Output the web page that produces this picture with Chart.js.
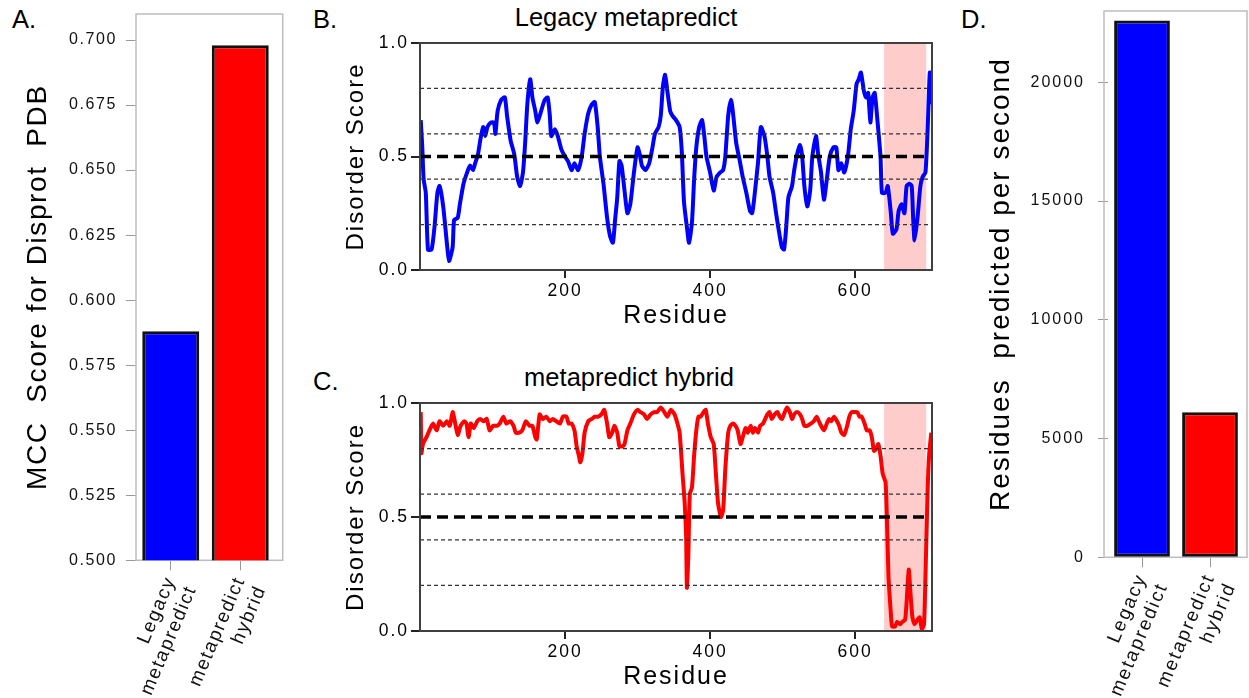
<!DOCTYPE html>
<html>
<head>
<meta charset="utf-8">
<script src="https://cdn.jsdelivr.net/npm/chart.js@4.4.0/dist/chart.umd.min.js"></script>
<style>
body{margin:0;background:#fff;width:1249px;height:698px;position:relative;overflow:hidden;font-family:'Liberation Sans',Arial,sans-serif;}
canvas{position:absolute;}
.lbl{position:absolute;font-size:25.5px;line-height:25.5px;color:#000;white-space:nowrap;}
</style>
</head>
<body>
<div class="lbl" style="left:12px;top:7px">A.</div>
<div class="lbl" style="left:313px;top:7px">B.</div>
<div class="lbl" style="left:313px;top:369px">C.</div>
<div class="lbl" style="left:961px;top:7px">D.</div>
<div class="lbl" style="left:626px;top:5px;transform:translateX(-50%)">Legacy metapredict</div>
<div class="lbl" style="left:629px;top:365px;transform:translateX(-50%)">metapredict hybrid</div>

<canvas id="g_mcc" width="300" height="698" style="left:0;top:0"></canvas>
<canvas id="g_legacy" width="620" height="345" style="left:320px;top:0"></canvas>
<canvas id="g_hybrid" width="620" height="338" style="left:320px;top:360px"></canvas>
<canvas id="g_velocidad" width="299" height="698" style="left:950px;top:0"></canvas>

<script>
// valores
let metodos = [['Legacy', 'metapredict'], ['metapredict', 'hybrid']];
let mcc = [0.588, 0.698];
let residuos_por_seg = [22600, 6110];
let ticks_mcc = [0.500, 0.525, 0.550, 0.575, 0.600, 0.625, 0.650, 0.675, 0.700];
let ticks_velocidad = [0, 5000, 10000, 15000, 20000];

let legacy_res = [1,3,5,8,11,16,20,24,27,32,37,40,45,47,52,55,60,65,69,73,76,80,83,87,90,93,98,102,104,107,112,117,120,125,130,134,138,142,145,148,152,155,159,162,167,172,176,179,181,186,190,195,200,204,209,213,218,223,227,232,237,241,245,248,253,258,262,266,269,272,275,278,282,286,290,295,300,303,306,311,316,320,324,329,332,335,338,341,345,348,353,358,361,364,368,371,375,378,381,385,389,392,395,400,405,409,414,418,421,425,429,432,436,441,445,450,455,458,461,466,470,475,479,482,487,491,496,499,502,505,508,513,516,520,524,527,530,534,538,541,546,549,553,557,561,565,570,574,577,581,585,590,594,598,602,605,608,612,615,618,621,624,627,631,635,637,642,645,649,652,657,660,664,668,671,675,678,680,682,686,690,693,697,700,703,706];
let legacy_score = [0.66,0.55,0.40,0.34,0.09,0.09,0.19,0.34,0.37,0.28,0.12,0.04,0.10,0.22,0.23,0.29,0.38,0.43,0.46,0.44,0.47,0.51,0.57,0.63,0.59,0.63,0.65,0.65,0.60,0.70,0.75,0.76,0.68,0.57,0.51,0.41,0.37,0.43,0.56,0.73,0.84,0.76,0.70,0.65,0.70,0.75,0.76,0.68,0.59,0.62,0.59,0.53,0.50,0.48,0.44,0.47,0.44,0.50,0.60,0.69,0.73,0.74,0.63,0.50,0.38,0.23,0.15,0.12,0.22,0.32,0.48,0.46,0.35,0.25,0.29,0.43,0.54,0.51,0.46,0.44,0.47,0.53,0.60,0.63,0.68,0.81,0.86,0.79,0.70,0.68,0.66,0.63,0.52,0.30,0.19,0.12,0.21,0.40,0.54,0.63,0.66,0.59,0.50,0.43,0.35,0.41,0.43,0.44,0.50,0.68,0.75,0.68,0.56,0.48,0.41,0.34,0.26,0.25,0.32,0.47,0.63,0.59,0.50,0.41,0.34,0.25,0.15,0.10,0.09,0.19,0.32,0.37,0.44,0.51,0.55,0.50,0.37,0.28,0.35,0.50,0.59,0.51,0.43,0.31,0.40,0.50,0.54,0.54,0.44,0.47,0.43,0.50,0.62,0.70,0.82,0.84,0.87,0.79,0.76,0.78,0.65,0.76,0.78,0.65,0.50,0.34,0.34,0.37,0.26,0.16,0.18,0.26,0.29,0.25,0.37,0.38,0.37,0.23,0.13,0.23,0.37,0.41,0.43,0.62,0.87,0.73];

let hybrid_res = [1,2,4,9,13,18,23,27,32,37,41,45,48,52,56,61,64,67,70,74,79,83,88,92,96,101,106,110,115,119,124,129,132,137,141,146,151,155,159,161,165,169,174,179,183,188,193,197,202,205,209,213,216,219,221,224,227,232,237,241,246,250,254,258,261,265,268,272,275,279,282,286,290,295,300,304,309,313,318,323,327,332,337,341,346,351,355,358,362,365,367,368,370,372,375,378,381,384,387,391,394,397,401,405,408,411,415,418,421,425,428,432,435,438,442,445,449,452,456,459,462,466,469,473,476,479,482,485,489,493,496,499,503,506,510,513,516,520,524,527,530,534,539,543,547,550,553,557,561,564,567,571,575,578,581,585,589,592,595,599,603,606,609,613,616,620,623,626,629,632,635,638,642,644,646,649,651,655,658,662,665,669,672,674,676,679,682,686,689,692,695,697,700,702,705];
let hybrid_score = [0.96,0.78,0.82,0.85,0.88,0.91,0.88,0.92,0.90,0.92,0.90,0.96,0.92,0.86,0.90,0.92,0.91,0.85,0.91,0.89,0.92,0.93,0.92,0.93,0.88,0.90,0.90,0.91,0.94,0.91,0.92,0.90,0.87,0.87,0.88,0.92,0.90,0.90,0.85,0.84,0.95,0.93,0.94,0.92,0.93,0.92,0.91,0.94,0.94,0.91,0.91,0.88,0.81,0.77,0.74,0.78,0.87,0.92,0.93,0.94,0.94,0.95,0.97,0.91,0.85,0.87,0.90,0.87,0.81,0.81,0.82,0.88,0.91,0.95,0.97,0.96,0.95,0.93,0.95,0.96,0.96,0.98,0.96,0.94,0.97,0.95,0.91,0.87,0.69,0.56,0.41,0.19,0.33,0.60,0.63,0.77,0.88,0.94,0.94,0.96,0.97,0.91,0.85,0.82,0.69,0.56,0.50,0.53,0.71,0.87,0.90,0.91,0.90,0.88,0.82,0.85,0.89,0.87,0.90,0.87,0.89,0.87,0.90,0.91,0.93,0.95,0.96,0.93,0.95,0.96,0.94,0.93,0.96,0.98,0.96,0.93,0.95,0.96,0.95,0.93,0.90,0.90,0.91,0.92,0.94,0.92,0.90,0.88,0.91,0.93,0.92,0.94,0.92,0.90,0.87,0.86,0.90,0.94,0.96,0.96,0.96,0.94,0.94,0.91,0.88,0.88,0.85,0.79,0.80,0.82,0.77,0.69,0.65,0.47,0.24,0.09,0.02,0.02,0.04,0.03,0.04,0.05,0.18,0.27,0.18,0.06,0.03,0.05,0.06,0.01,0.03,0.24,0.62,0.77,0.87];

let lineas_guia = [0.2, 0.4, 0.6, 0.8];
let umbral = 0.5;
let zona_rosa = [640, 698];
let res_max = 706;

const fuente = "'Liberation Sans', Arial, sans-serif";
Chart.defaults.font.family = fuente;
Chart.defaults.color = '#111';

// espaciado entre letras como en la figura original
function espaciado(px){
    return {
        id: 'espaciado',
        beforeUpdate(chart){ chart.ctx.letterSpacing = px + 'px'; },
        beforeDraw(chart){ chart.ctx.letterSpacing = px + 'px'; }
    };
}

// caja alrededor del area del grafico
function marco(color, ancho, izq, der, debajo){
    function dibujar(chart){
        let a = chart.chartArea;
        let c = chart.ctx;
        c.save();
        c.strokeStyle = color;
        c.lineWidth = ancho;
        c.strokeRect(a.left - izq, a.top, a.right - a.left + izq + der, a.bottom - a.top);
        c.restore();
    }
    if(debajo){
        return {id: 'marco', beforeDatasetsDraw: dibujar};
    }
    return {id: 'marco', afterDatasetsDraw: dibujar};
}

// region sombreada en rosa
let banda = {
    id: 'banda',
    beforeDatasetsDraw(chart){
        let x = chart.scales.x;
        let a = chart.chartArea;
        let c = chart.ctx;
        let x0 = x.getPixelForValue(zona_rosa[0]);
        let x1 = x.getPixelForValue(zona_rosa[1]);
        c.save();
        c.fillStyle = '#ffcccc';
        c.fillRect(x0, a.top, x1 - x0, a.bottom - a.top);
        c.restore();
    }
};

function barras(id, valores, opciones_y, titulo_y, ancho_y, alto_x, relleno_der, extra_marco){
    let ctx = document.getElementById(id).getContext('2d');
    new Chart(ctx, {
        type: 'bar',
        data: {
            labels: metodos,
            datasets: [
                {
                    data: valores,
                    backgroundColor: ['#0000ff', '#ff0000'],
                    borderColor: '#111',
                    borderWidth: 3,
                    borderSkipped: false,
                    barPercentage: 0.82,
                    categoryPercentage: 1
                }
            ]
        },
        options: {
            responsive: false,
            animation: false,
            events: [],
            layout: {
                padding: {top: opciones_y.top, right: relleno_der, bottom: 0, left: 0}
            },
            plugins: {
                legend: {display: false},
                tooltip: {enabled: false}
            },
            scales: {
                x: {
                    afterFit: function(s){
                        s.height = alto_x;
                        s.paddingLeft = 0;
                        s.paddingRight = 0;
                    },
                    border: {display: false},
                    grid: {drawOnChartArea: false, offset: false, color: '#999', tickLength: 10},
                    ticks: {
                        minRotation: 67,
                        maxRotation: 67,
                        padding: 3,
                        color: '#111',
                        font: {size: 19}
                    }
                },
                y: {
                    min: opciones_y.min,
                    max: opciones_y.max,
                    afterFit: function(s){
                        s.width = ancho_y;
                        s.paddingTop = 0;
                        s.paddingBottom = 0;
                    },
                    afterBuildTicks: function(s){
                        s.ticks = opciones_y.marcas.map(function(v){ return {value: v}; });
                    },
                    border: {display: false},
                    grid: {drawOnChartArea: false, color: '#999', tickLength: 10},
                    ticks: {
                        padding: opciones_y.pad,
                        color: '#111',
                        font: {size: 16},
                        callback: opciones_y.formato
                    },
                    title: {
                        display: true,
                        text: titulo_y,
                        color: '#000',
                        font: {size: 28},
                        padding: {top: opciones_y.titulo_pad, bottom: 0}
                    }
                }
            }
        },
        plugins: [espaciado(opciones_y.espacio), marco('#bdbdbd', 1.5, extra_marco[0], extra_marco[1], true)]
    });
}

function desorden(id, res, score, color, relleno_abajo){
    let puntos = res.map(function(r, i){ return {x: r, y: score[i]}; });
    let datasets = [
        {data: puntos, borderColor: color, borderWidth: 4, pointRadius: 0, tension: 0.2, order: 2}
    ];
    lineas_guia.forEach(function(v){
        datasets.push({
            data: [{x: 0, y: v}, {x: res_max, y: v}],
            borderColor: '#333', borderWidth: 1.2, borderDash: [4, 3], pointRadius: 0, order: 1
        });
    });
    datasets.push({
        data: [{x: 0, y: umbral}, {x: zona_rosa[1], y: umbral}],
        borderColor: '#000', borderWidth: 3.3, borderDash: [11, 6], pointRadius: 0, order: 0
    });

    let ctx = document.getElementById(id).getContext('2d');
    new Chart(ctx, {
        type: 'line',
        data: {datasets: datasets},
        options: {
            responsive: false,
            animation: false,
            events: [],
            layout: {
                padding: {top: 43, right: 8, bottom: relleno_abajo, left: 0}
            },
            plugins: {
                legend: {display: false},
                tooltip: {enabled: false}
            },
            scales: {
                x: {
                    type: 'linear',
                    min: 0,
                    max: res_max,
                    afterFit: function(s){ s.height = 61; },
                    border: {display: false},
                    grid: {drawOnChartArea: false, color: '#222', lineWidth: 2, tickLength: 8},
                    ticks: {
                        stepSize: 200,
                        includeBounds: false,
                        padding: 3,
                        color: '#000',
                        font: {size: 17.5},
                        callback: function(v){ return v === 0 ? null : v; }
                    },
                    title: {
                        display: true,
                        text: 'Residue',
                        color: '#000',
                        font: {size: 25},
                        padding: {top: 0, bottom: 0}
                    }
                },
                y: {
                    min: 0,
                    max: 1,
                    afterFit: function(s){ s.width = 100; },
                    border: {display: false},
                    grid: {drawOnChartArea: false, color: '#222', lineWidth: 2, tickLength: 9},
                    ticks: {
                        stepSize: 0.5,
                        padding: 2,
                        color: '#000',
                        font: {size: 17.5},
                        callback: function(v){ return v.toFixed(1); }
                    },
                    title: {
                        display: true,
                        text: 'Disorder Score',
                        color: '#000',
                        font: {size: 24},
                        padding: {top: 21.6, bottom: 0}
                    }
                }
            }
        },
        plugins: [espaciado(2), banda, marco('#404040', 2, 0, 0, false)]
    });
}

barras('g_mcc', mcc,
    {min: 0.5, max: 0.71, marcas: ticks_mcc, pad: 9, top: 14, titulo_pad: 21.7, espacio: 1.6,
     formato: function(v){ return v.toFixed(3); }},
    'MCC  Score for Disprot  PDB', 136, 137.7, 25, [0, 7.7]);

desorden('g_legacy', legacy_res, legacy_score, '#0000ff', 14);
desorden('g_hybrid', hybrid_res, hybrid_score, '#ff0000', 6);

barras('g_velocidad', residuos_por_seg,
    {min: 0, max: 23000, marcas: ticks_velocidad, pad: 13, top: 11, titulo_pad: 34.8, espacio: 2,
     formato: function(v){ return String(v); }},
    'Residues  predicted per second', 158, 140.7, 5, [4, 3]);
</script>
</body>
</html>
